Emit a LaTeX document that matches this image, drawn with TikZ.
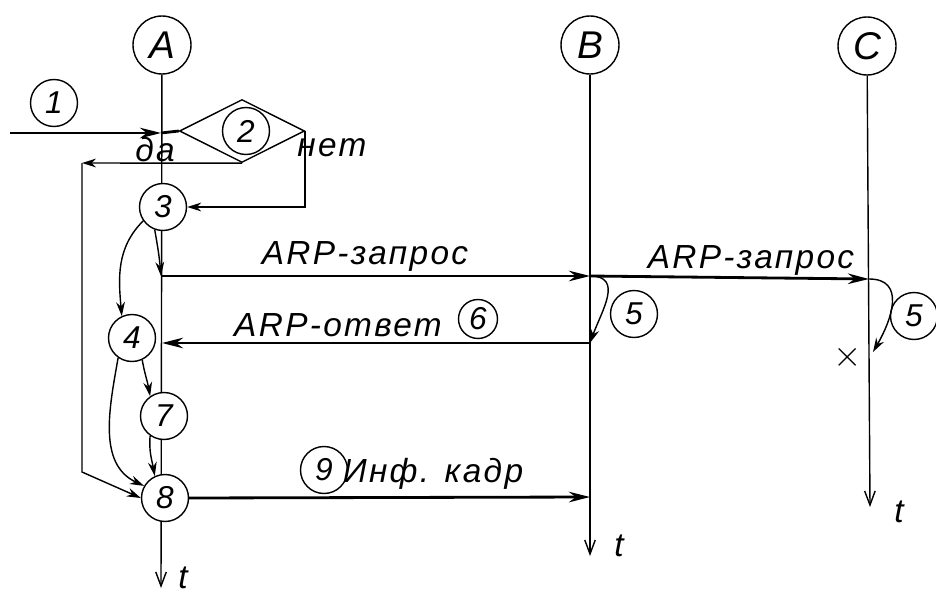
\documentclass[tikz,border=0pt]{standalone}
\usepackage{fontspec}
\setmainfont{Liberation Sans}
\newfontfamily\hand[LetterSpace=7]{Liberation Sans}
\usetikzlibrary{shapes.geometric, arrows.meta}

\begin{document}
\begin{tikzpicture}[
    x=0.02cm, y=-0.02cm,
    station/.style={circle, draw, thick, fill=white, minimum size=1.16cm,
                inner sep=0pt, font=\hand\fontsize{22}{24}\selectfont\itshape},
    num/.style={circle, draw, thick, fill=white, minimum size=0.94cm,
                inner sep=0pt, font=\hand\fontsize{18}{20}\selectfont\itshape},
    life/.style={-{Straight Barb[length=8pt, width=6pt]}, thick},
    msg/.style={-{Stealth[length=12pt, width=6pt]}, line width=1.6pt},
    arrow/.style={-{Stealth[length=8pt, width=5pt]}, thick},
    lbl/.style={font=\hand\fontsize{19}{21}\selectfont\itshape}
]
\useasboundingbox (0,0) rectangle (936,598);

\node[station] (A) at (162,45) {A};
\node[station] (B) at (590,45) {B};
\node[station] (C) at (867,46) {C};
\coordinate (Aend) at (161,588);
\coordinate (Bend) at (590,556);
\coordinate (Cend) at (870,507);
\draw[life] (A) -- (Aend);
\draw[life] (B) -- (Bend);
\draw[life] (C) -- (Cend);
\node[lbl] (tA) at (183,578) {t};
\node[lbl] (tB) at (619,546) {t};
\node[lbl] (tC) at (899,512) {t};

\node[diamond, draw, thick, minimum width=2.5cm, minimum height=1.26cm,
      inner sep=0pt] (d2) at (242,131) {};
\node[num] (n1) at (54,103) {1};
\node[num] (n2) at (246,131) {2};
\node[num] (n3) at (163,207) {3};
\node[num] (n4) at (132,338) {4};
\node[num] (n7) at (164,416) {7};
\node[num] (n8) at (165,498) {8};
\node[num] (n5b) at (634,314) {5};
\node[num] (n5c) at (914,316) {5};
\node[num, minimum size=0.78cm] (n6) at (478,319) {6};
\node[num] (n9) at (324,470) {9};

\coordinate (in1) at (10,133);
\coordinate (a1) at (161,133);
\coordinate (a3) at (161,276);
\coordinate (b3) at (590,276);
\coordinate (c3) at (869,279);
\coordinate (b6) at (590,343);
\coordinate (a6) at (162,343);
\coordinate (b9) at (590,497);
\coordinate (cx) at (873,352);
\coordinate (yes1) at (82,163);
\coordinate (yes2) at (82,472);

\draw[msg] (in1) -- (a1);
\draw[line width=1.6pt] (a1) -- (d2.west);
\node[lbl] (da) at (155,150) {да};
\node[lbl] (net) at (332,148) {нет};
\draw[arrow] (d2.south) -- (yes1);
\draw[arrow] (yes1) -- (yes2) -- (n8.west);
\draw[arrow] (d2.east) |- (n3.east);

\draw[arrow] (n3.250) to[out=-80, in=95] (a3);
\draw[arrow] (n3.215) to[out=225, in=95] (n4.115);
\draw[arrow] (n4.-65) to[out=-80, in=100] (n7.125);
\draw[arrow] (n4.235) to[out=-100, in=155] (n8.150);
\draw[arrow] (n7.235) to[out=-95, in=100] (n8.115);

\draw[msg] (a3) -- (b3);
\node[lbl] (req1) at (365,256) {ARP-запрос};
\draw[msg] (b3) -- (c3);
\node[lbl] (req2) at (751,260) {ARP-запрос};
\draw[arrow] (b3) to[out=0, in=70, looseness=1.3] (b6);
\draw[arrow] (c3) to[out=0, in=60, looseness=1.3] (cx);
\node[font=\huge] (lost) at (848,357) {$\times$};
\draw[msg] (b6) -- (a6);
\node[lbl] (reply) at (338,325) {ARP-ответ};
\draw[msg] (n8.east) -- (b9);
\node[lbl] (frame) at (433,474) {Инф. кадр};
\end{tikzpicture}
\end{document}
